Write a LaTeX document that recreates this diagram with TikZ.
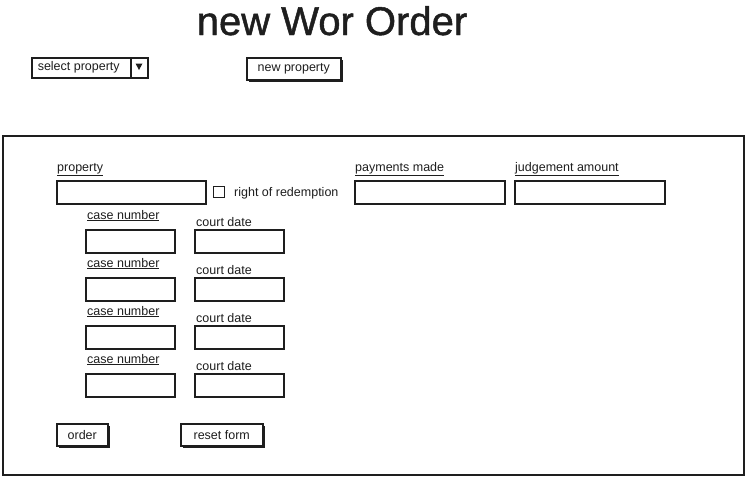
\documentclass[tikz,border=0pt]{standalone}
\usepackage{fontspec}
\setmainfont{Liberation Sans}
\newfontfamily\titlefont[FakeBold=1.2]{Liberation Sans}
\usetikzlibrary{shadows}
\definecolor{ink}{HTML}{1E1E1E}
\tikzset{
  ui/.style={font=\fontsize{12.5}{14}\selectfont, text=ink, inner sep=0pt, anchor=base west},
  field/.style={draw=ink, line width=1.8pt, fill=white, anchor=north west, inner sep=0pt},
  btn/.style={draw=ink, line width=1.5pt, fill=white, text=ink, anchor=north west,
    font=\fontsize{12.5}{14}\selectfont, inner sep=0pt, minimum height=22pt,
    general shadow={fill=ink, shadow xshift=2.5pt, shadow yshift=-2.5pt}}
}
\begin{document}
\begin{tikzpicture}[x=1pt,y=-1pt]
\useasboundingbox (0,0) rectangle (746,477);

% Title
\node[font=\titlefont\fontsize{40}{48}\selectfont, text=ink, anchor=base] (title) at (332,35) {new Wor Order};

% Property selector and new property button
\node[field, line width=1.5pt, minimum width=116pt, minimum height=20pt, font=\fontsize{12.5}{14}\selectfont, text=ink] (combo) at (31,57) {\hspace*{-22pt}select property};
\draw[ink, line width=1.5pt] (131,0 |- combo.north) -- (131,0 |- combo.south);
\fill[ink] (135.5,63.5) -- (142.5,63.5) -- (139,70) -- cycle;
\node[btn, minimum width=94pt] (newprop) at (246,57) {new property};

% Form frame
\node[draw=ink, line width=1.8pt, anchor=north west, inner sep=0pt, minimum width=741pt, minimum height=339pt] (form) at (2,135) {};

% Top row of fields
\node[ui] (proplbl) at (57,171) {\underline{property}};
\node[field, minimum width=149pt, minimum height=23pt] (prop) at (56,180) {};
\node[draw=ink, line width=1.3pt, anchor=north west, minimum size=11pt, inner sep=0pt] (redeem) at (213,186) {};
\node[ui] (redeemlbl) at (234,196) {right of redemption};
\node[ui] (paylbl) at (355,171) {\underline{payments made}};
\node[field, minimum width=150pt, minimum height=23pt] (pay) at (354,180) {};
\node[ui] (judglbl) at (515,171) {\underline{judgement amount}};
\node[field, minimum width=150pt, minimum height=23pt] (judg) at (514,180) {};

% Case number / court date rows
\foreach \i/\top in {1/229, 2/277, 3/325, 4/373} {
  \node[ui] (caselbl\i) at (87,\top-10) {\underline{case number}};
  \node[field, minimum width=89pt, minimum height=23pt] (case\i) at (85,\top) {};
  \node[ui] (datelbl\i) at (196,\top-3) {court date};
  \node[field, minimum width=89pt, minimum height=23pt] (date\i) at (194,\top) {};
}

% Buttons
\node[btn, minimum width=51pt] (order) at (56,423) {order};
\node[btn, minimum width=82pt] (reset) at (180,423) {reset form};
\end{tikzpicture}
\end{document}
